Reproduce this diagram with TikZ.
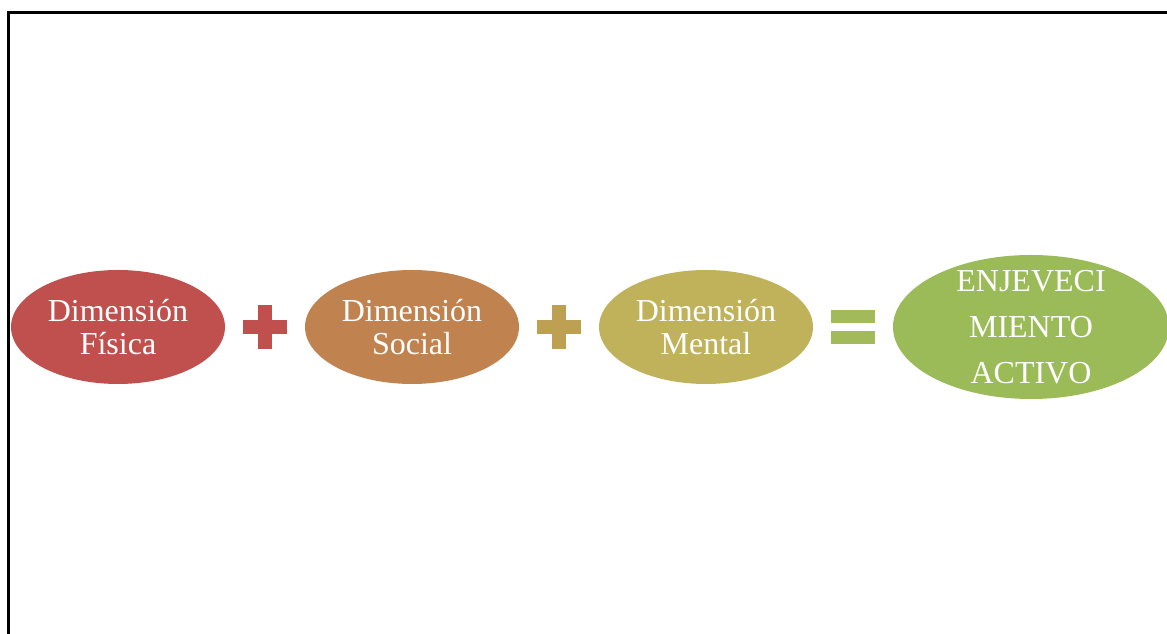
\documentclass[tikz,border=0pt]{standalone}
\usepackage{fontspec}
\setmainfont{Liberation Serif}
\usetikzlibrary{positioning,shapes.geometric}
\definecolor{fisica}{HTML}{C0504D}
\definecolor{social}{HTML}{C0824F}
\definecolor{plusgold}{HTML}{BEA052}
\definecolor{mental}{HTML}{BFB25A}
\definecolor{eqgreen}{HTML}{A3BA5A}
\definecolor{activo}{HTML}{9BBB59}
\newcommand{\plusmark}[2]{%
  \fill[#2] ([yshift=-5.25pt]#1.west) rectangle ([yshift=5.25pt]#1.east);
  \fill[#2] ([xshift=-5.25pt]#1.south) rectangle ([xshift=5.25pt]#1.north);}

\begin{document}
\begin{tikzpicture}[node distance=13.5pt,outer sep=0pt,
  dim/.style={ellipse,fill=#1,text=white,align=center,inner sep=2pt,
    minimum width=160.5pt,minimum height=85.5pt,
    font=\fontsize{24}{25}\selectfont},
  sign/.style={minimum size=33pt,inner sep=0pt}]
\useasboundingbox (0,0) rectangle (875.25pt,475.5pt);
\clip (0,0) rectangle (875.25pt,475.5pt);
\draw[line width=1.6pt] (6.4pt,-20pt) rectangle (900pt,466.1pt);
\node[dim=fisica] (fis) at (88.5pt,230.25pt) {Dimensión\\Física};
\node[sign,right=of fis] (p1) {};
\node[dim=social,right=of p1] (soc) {Dimensión\\Social};
\node[sign,right=of soc] (p2) {};
\node[dim=mental,right=of p2] (men) {Dimensión\\Mental};
\node[sign,right=of men] (eq) {};
\node[dim=activo,right=of eq,minimum width=207pt,minimum height=108pt,
  inner ysep=-7pt,font=\fontsize{24}{34.5}\selectfont] (act) {ENJEVECI\\MIENTO\\ACTIVO};
\plusmark{p1}{fisica}
\plusmark{p2}{plusgold}
\fill[eqgreen] ([yshift=3pt]eq.west) rectangle ([yshift=13pt]eq.east);
\fill[eqgreen] ([yshift=-3pt]eq.west) rectangle ([yshift=-13pt]eq.east);
\end{tikzpicture}
\end{document}
